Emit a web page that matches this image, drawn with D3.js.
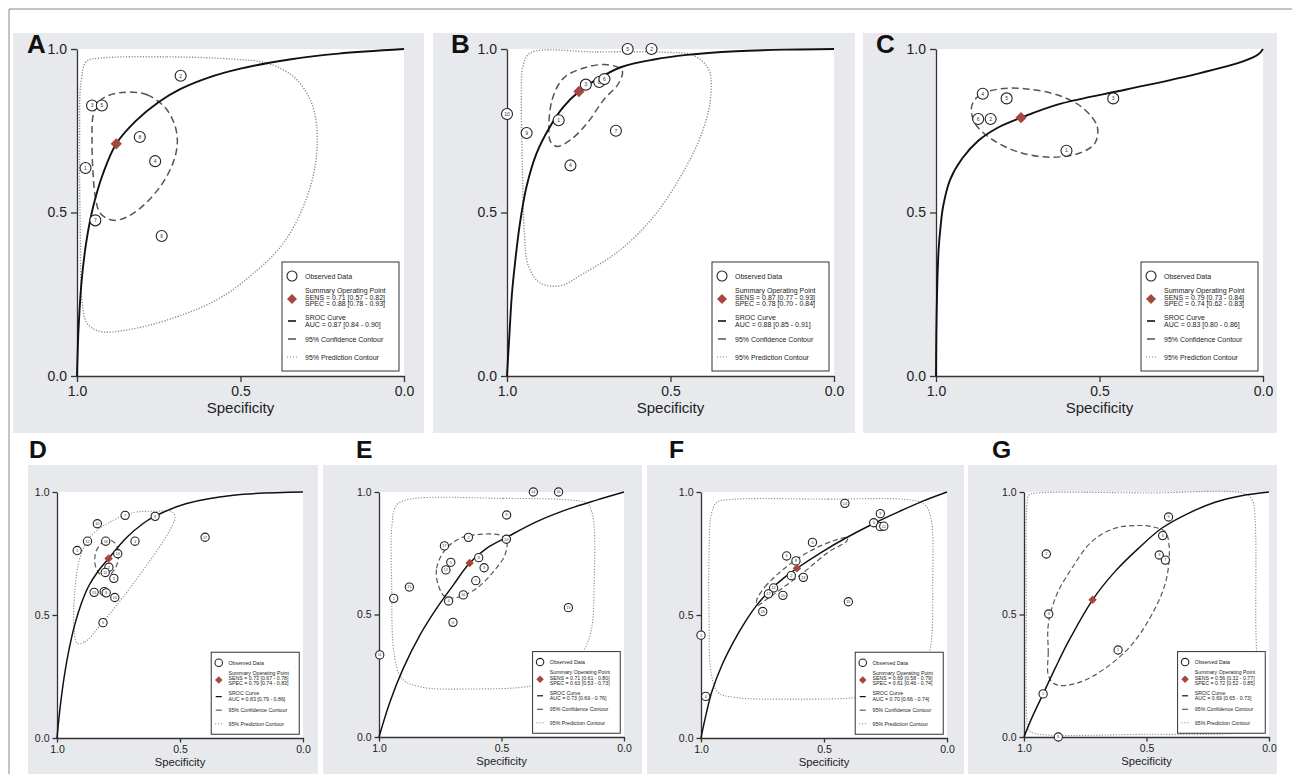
<!DOCTYPE html>
<html>
<head>
<meta charset="utf-8">
<script src="https://cdn.jsdelivr.net/npm/d3@7/dist/d3.min.js"></script>
<style>
  body { margin: 0; background: #fff; font-family: "Liberation Sans", Arial, sans-serif; }
</style>
</head>
<body>
<svg id="fig" width="1292" height="774"></svg>
<script>
// ---- data: observed studies are [specificity, sensitivity, study no.] ----
const studiesA = [[0.683,0.918,2],[0.954,0.827,3],[0.924,0.827,5],[0.808,0.731,8],[0.761,0.657,4],[0.974,0.636,1],[0.944,0.476,7],[0.741,0.428,6]];
const summaryA = [0.88, 0.71];
const statsA = ["SENS = 0.71 [0.57 - 0.82]", "SPEC = 0.88 [0.78 - 0.93]", "AUC = 0.87 [0.84 - 0.90]"];
const srocA = [[1,0],[0.995,0.15],[0.985,0.3],[0.97,0.42],[0.95,0.52],[0.92,0.62],[0.88,0.71],[0.82,0.78],[0.75,0.838],[0.683,0.878],[0.6,0.912],[0.5,0.94],[0.35,0.968],[0.2,0.986],[0,1]];
const confA = [[0.863,0.867],[0.786,0.860],[0.725,0.814],[0.695,0.743],[0.700,0.671],[0.745,0.580],[0.827,0.498],[0.888,0.476],[0.929,0.498],[0.944,0.549],[0.951,0.620],[0.954,0.722],[0.949,0.804],[0.924,0.847]];
const predA = [[0.929,0.972],[0.725,0.976],[0.521,0.969],[0.420,0.957],[0.338,0.916],[0.287,0.845],[0.267,0.763],[0.272,0.641],[0.308,0.518],[0.369,0.406],[0.460,0.314],[0.572,0.233],[0.725,0.171],[0.847,0.141],[0.929,0.136],[0.969,0.161],[0.985,0.233],[0.990,0.437],[0.992,0.743],[0.988,0.896],[0.971,0.962]];

const studiesB = [[0.631,1.0,5],[0.558,1.0,2],[1.0,0.801,10],[0.940,0.743,9],[0.842,0.782,1],[0.759,0.891,3],[0.718,0.899,8],[0.702,0.908,6],[0.667,0.750,7],[0.806,0.644,4]];
const summaryB = [0.78, 0.87];
const statsB = ["SENS = 0.87 [0.77 - 0.93]", "SPEC = 0.78 [0.70 - 0.84]", "AUC = 0.88 [0.85 - 0.91]"];
const srocB = [[1,0],[0.993,0.12],[0.985,0.25],[0.975,0.35],[0.96,0.47],[0.94,0.58],[0.91,0.68],[0.87,0.76],[0.83,0.82],[0.78,0.87],[0.72,0.91],[0.65,0.945],[0.55,0.968],[0.45,0.982],[0.3,0.993],[0.15,0.998],[0,1]];
const confB = [[0.872,0.748],[0.862,0.845],[0.827,0.911],[0.765,0.942],[0.694,0.952],[0.648,0.935],[0.658,0.896],[0.704,0.845],[0.755,0.773],[0.806,0.722],[0.847,0.702],[0.867,0.717]];
const predB = [[0.929,0.988],[0.724,0.991],[0.520,0.990],[0.429,0.980],[0.383,0.937],[0.378,0.845],[0.408,0.733],[0.469,0.610],[0.551,0.488],[0.653,0.386],[0.765,0.314],[0.837,0.276],[0.898,0.284],[0.934,0.335],[0.947,0.437],[0.953,0.641],[0.956,0.845],[0.951,0.947]];

const studiesC = [[0.857,0.863,4],[0.784,0.849,5],[0.458,0.849,3],[0.871,0.786,6],[0.833,0.786,2],[0.601,0.689,1]];
const summaryC = [0.74, 0.79];
const statsC = ["SENS = 0.79 [0.73 - 0.84]", "SPEC = 0.74 [0.62 - 0.83]", "AUC = 0.83 [0.80 - 0.86]"];
const srocC = [[1,0],[0.999,0.13],[0.996,0.284],[0.992,0.386],[0.986,0.457],[0.978,0.52],[0.957,0.6],[0.92,0.665],[0.87,0.72],[0.81,0.76],[0.74,0.79],[0.621,0.832],[0.418,0.876],[0.214,0.921],[0.061,0.962],[0.015,0.983],[0,1]];
const confC = [[0.891,0.824],[0.866,0.860],[0.804,0.878],[0.723,0.878],[0.621,0.857],[0.550,0.819],[0.507,0.763],[0.514,0.712],[0.560,0.682],[0.652,0.669],[0.754,0.687],[0.835,0.728],[0.881,0.773]];
const predC = [];

const studiesD = [[0.918,0.762,1],[0.876,0.800,12],[0.836,0.871,10],[0.723,0.905,7],[0.601,0.901,9],[0.398,0.816,17],[0.802,0.800,16],[0.683,0.800,4],[0.753,0.749,14],[0.789,0.694,2],[0.804,0.673,11],[0.769,0.649,3],[0.849,0.592,15],[0.808,0.595,6],[0.800,0.590,8],[0.765,0.571,13],[0.813,0.469,5]];
const summaryD = [0.79, 0.73];
const statsD = ["SENS = 0.73 [0.67 - 0.78]", "SPEC = 0.79 [0.74 - 0.83]", "AUC = 0.83 [0.79 - 0.86]"];
const srocD = [[1,0],[0.99,0.1],[0.975,0.22],[0.955,0.34],[0.928,0.46],[0.9,0.55],[0.87,0.62],[0.835,0.675],[0.79,0.73],[0.717,0.815],[0.65,0.872],[0.609,0.898],[0.473,0.953],[0.283,0.987],[0,1]];
const confD = [[0.840,0.762],[0.813,0.796],[0.779,0.803],[0.755,0.776],[0.751,0.728],[0.765,0.687],[0.792,0.660],[0.826,0.667],[0.844,0.701],[0.846,0.735]];
const predD = [[0.918,0.385],[0.887,0.390],[0.826,0.456],[0.717,0.592],[0.622,0.721],[0.554,0.823],[0.520,0.898],[0.534,0.921],[0.595,0.922],[0.690,0.916],[0.785,0.878],[0.867,0.816],[0.908,0.728],[0.928,0.592],[0.931,0.456]];

const studiesE = [[0.370,1.0,14],[0.267,1.0,16],[0.479,0.906,9],[0.480,0.807,20],[0.635,0.815,2],[0.733,0.780,17],[0.707,0.713,5],[0.727,0.682,12],[0.593,0.732,8],[0.571,0.691,3],[0.605,0.638,7],[0.656,0.580,10],[0.716,0.555,4],[0.698,0.468,6],[0.876,0.612,15],[0.940,0.566,1],[0.997,0.335,11],[0.227,0.528,19]];
const summaryE = [0.63, 0.71];
const statsE = ["SENS = 0.71 [0.61 - 0.80]", "SPEC = 0.63 [0.53 - 0.73]", "AUC = 0.73 [0.69 - 0.76]"];
const srocE = [[1,0],[0.955,0.144],[0.901,0.28],[0.833,0.416],[0.765,0.525],[0.697,0.62],[0.63,0.71],[0.561,0.77],[0.479,0.815],[0.356,0.879],[0.22,0.933],[0.112,0.967],[0,1]];
const confE = [[0.758,0.620],[0.765,0.688],[0.731,0.763],[0.669,0.811],[0.588,0.827],[0.506,0.824],[0.479,0.804],[0.486,0.743],[0.533,0.675],[0.601,0.607],[0.683,0.569],[0.731,0.573]];
const predE = [[0.873,0.971],[0.493,0.974],[0.220,0.967],[0.152,0.954],[0.128,0.906],[0.122,0.620],[0.132,0.444],[0.159,0.362],[0.220,0.267],[0.356,0.212],[0.629,0.196],[0.833,0.205],[0.907,0.239],[0.939,0.348],[0.948,0.620],[0.947,0.865],[0.928,0.947]];

const studiesF = [[0.415,0.954,14],[0.271,0.912,9],[0.298,0.875,5],[0.271,0.859,7],[0.257,0.861,11],[0.547,0.795,6],[0.652,0.740,3],[0.614,0.720,8],[0.633,0.660,2],[0.584,0.653,13],[0.705,0.610,12],[0.726,0.586,17],[0.667,0.580,10],[0.749,0.514,16],[0.401,0.554,15],[1.0,0.418,1],[0.981,0.169,4]];
const summaryF = [0.61, 0.69];
const statsF = ["SENS = 0.69 [0.58 - 0.79]", "SPEC = 0.61 [0.46 - 0.74]", "AUC = 0.70 [0.66 - 0.74]"];
const srocF = [[1,0],[0.984,0.076],[0.957,0.185],[0.916,0.294],[0.869,0.389],[0.821,0.471],[0.774,0.539],[0.713,0.607],[0.659,0.654],[0.61,0.69],[0.509,0.756],[0.415,0.811],[0.306,0.868],[0.211,0.913],[0.103,0.961],[0,1]];
const confF = [[0.774,0.559],[0.740,0.614],[0.686,0.668],[0.618,0.722],[0.537,0.770],[0.455,0.804],[0.404,0.815],[0.408,0.800],[0.482,0.756],[0.577,0.678],[0.672,0.607],[0.740,0.559],[0.770,0.539]];
const predF = [[0.889,0.969],[0.482,0.971],[0.144,0.967],[0.089,0.947],[0.065,0.893],[0.058,0.620],[0.066,0.376],[0.095,0.267],[0.175,0.192],[0.347,0.165],[0.618,0.158],[0.862,0.165],[0.930,0.185],[0.959,0.267],[0.967,0.484],[0.967,0.756],[0.959,0.906],[0.936,0.958]];

const studiesG = [[0.410,0.898,9],[0.434,0.822,6],[0.448,0.743,3],[0.423,0.722,7],[0.909,0.747,2],[0.899,0.502,4],[0.616,0.355,5],[0.922,0.176,1],[0.860,0.0,8]];
const summaryG = [0.72, 0.56];
const statsG = ["SENS = 0.56 [0.32 - 0.77]", "SPEC = 0.72 [0.52 - 0.85]", "AUC = 0.69 [0.65 - 0.73]"];
const srocG = [[1,0],[0.969,0.076],[0.922,0.176],[0.873,0.28],[0.819,0.389],[0.72,0.56],[0.629,0.675],[0.533,0.77],[0.438,0.852],[0.329,0.913],[0.22,0.958],[0.112,0.985],[0,1]];
const confG = [[0.901,0.457],[0.901,0.348],[0.901,0.253],[0.880,0.219],[0.846,0.210],[0.765,0.226],[0.669,0.280],[0.561,0.376],[0.465,0.525],[0.418,0.648],[0.408,0.784],[0.424,0.838],[0.479,0.859],[0.547,0.863],[0.629,0.852],[0.724,0.797],[0.805,0.688],[0.867,0.580]];
const predG = [[0.955,0.995],[0.493,0.996],[0.098,0.993],[0.068,0.967],[0.057,0.893],[0.054,0.484],[0.054,0.090],[0.078,0.024],[0.152,0.014],[0.493,0.011],[0.955,0.014],[0.982,0.029],[0.989,0.090],[0.990,0.484],[0.988,0.947],[0.980,0.988]];

const xTicks = [1.0, 0.5, 0.0];
const yTicks = [0.0, 0.5, 1.0];
const legendLabels = ["Observed Data", "Summary Operating Point", "SROC Curve", "95% Confidence Contour", "95% Prediction Contour"];

// ---- layout ----
const panels = [
  {id:"A", studies:studiesA, summary:summaryA, stats:statsA, sroc:srocA, conf:confA, pred:predA, bg:[13,33,411,400], x0:77,  y0:49,  size:327, letter:[27,53]},
  {id:"B", studies:studiesB, summary:summaryB, stats:statsB, sroc:srocB, conf:confB, pred:predB, bg:[433,33,422,400], x0:507, y0:49,  size:327, letter:[451,53]},
  {id:"C", studies:studiesC, summary:summaryC, stats:statsC, sroc:srocC, conf:confC, pred:predC, bg:[863,33,414,400], x0:936, y0:49,  size:327, letter:[876,53]},
  {id:"D", studies:studiesD, summary:summaryD, stats:statsD, sroc:srocD, conf:confD, pred:predD, bg:[28,465,290,309], x0:57,  y0:492, size:246, letter:[29,458]},
  {id:"E", studies:studiesE, summary:summaryE, stats:statsE, sroc:srocE, conf:confE, pred:predE, bg:[323,465,319,309], x0:379, y0:492, size:245, letter:[356,458]},
  {id:"F", studies:studiesF, summary:summaryF, stats:statsF, sroc:srocF, conf:confF, pred:predF, bg:[647,465,317,309], x0:701, y0:492, size:246, letter:[669,458]},
  {id:"G", studies:studiesG, summary:summaryG, stats:statsG, sroc:srocG, conf:confG, pred:predG, bg:[968,465,309,309], x0:1024,y0:492, size:245, letter:[992,458]}
];

const svg = d3.select("#fig");
const panelGrey = "#e7e9ec";
const diamondColor = "#a5473d";

// outer frame lines
svg.append("line").attr("x1", 9).attr("y1", 9).attr("x2", 1292).attr("y2", 9).attr("stroke", "#8a8a8a");
svg.append("line").attr("x1", 9).attr("y1", 9).attr("x2", 9).attr("y2", 774).attr("stroke", "#8a8a8a");

panels.forEach(p => {
  const k = p.size / 327;
  svg.append("rect")
    .attr("x", p.bg[0]).attr("y", p.bg[1]).attr("width", p.bg[2]).attr("height", p.bg[3])
    .attr("fill", panelGrey);
  svg.append("text")
    .attr("x", p.letter[0]).attr("y", p.letter[1])
    .attr("font-size", 26 * (p.size < 300 ? 0.95 : 1)).attr("font-weight", "bold").attr("fill", "#111")
    .text(p.id);

  const g = svg.append("g").attr("transform", `translate(${p.x0},${p.y0})`);
  const x = d3.scaleLinear().domain([1, 0]).range([0, p.size]);
  const y = d3.scaleLinear().domain([0, 1]).range([p.size, 0]);

  g.append("rect").attr("width", p.size).attr("height", p.size).attr("fill", "#fff");

  // axes
  const xAxis = g.append("g").attr("transform", `translate(0,${p.size})`)
    .call(d3.axisBottom(x).tickValues(xTicks).tickFormat(d3.format(".1f")).tickSize(6 * k).tickSizeOuter(0).tickPadding(4 * k));
  const yAxis = g.append("g")
    .call(d3.axisLeft(y).tickValues(yTicks).tickFormat(d3.format(".1f")).tickSize(6 * k).tickSizeOuter(0).tickPadding(4 * k));
  [xAxis, yAxis].forEach(a => {
    a.select(".domain").attr("stroke", "#333").attr("stroke-width", 1.3);
    a.selectAll(".tick line").attr("stroke", "#333").attr("stroke-width", 1.3);
    a.selectAll("text").attr("font-size", 14 * k).attr("fill", "#222")
      .attr("font-family", "Liberation Sans, Arial, sans-serif");
  });
  g.append("text")
    .attr("x", p.size / 2).attr("y", p.size + 37 * k)
    .attr("text-anchor", "middle").attr("font-size", 15 * k).attr("fill", "#222")
    .text("Specificity");

  const line = d3.line().x(d => x(d[0])).y(d => y(d[1])).curve(d3.curveCatmullRom.alpha(0.5));
  const closed = d3.line().x(d => x(d[0])).y(d => y(d[1])).curve(d3.curveCatmullRomClosed.alpha(0.5));

  // prediction contour (dotted)
  if (p.pred.length) {
    g.append("path").attr("d", closed(p.pred))
      .attr("fill", "none").attr("stroke", "#8c8c8c").attr("stroke-width", 1.2 * k + 0.2)
      .attr("stroke-dasharray", "1.2,1.6");
  }
  // confidence contour (dashed)
  g.append("path").attr("d", closed(p.conf))
    .attr("fill", "none").attr("stroke", "#555").attr("stroke-width", 1.3 * k + 0.2)
    .attr("stroke-dasharray", `${7 * k},${4 * k}`);
  // SROC curve
  g.append("path").attr("d", line(p.sroc))
    .attr("fill", "none").attr("stroke", "#111").attr("stroke-width", 1.7 * k + 0.2);

  // observed studies
  const pts = g.selectAll(".study").data(p.studies).enter().append("g")
    .attr("transform", d => `translate(${x(d[0])},${y(d[1])})`);
  pts.append("circle").attr("r", 5.5 * k)
    .attr("fill", "#fff").attr("stroke", "#222").attr("stroke-width", 1.1);
  pts.append("text").attr("text-anchor", "middle").attr("dy", "0.35em")
    .attr("font-size", 5 * k).attr("fill", "#333").text(d => d[2]);

  // summary operating point
  g.append("path")
    .attr("d", d3.symbol(d3.symbolSquare, 64 * k * k)())
    .attr("transform", `translate(${x(p.summary[0])},${y(p.summary[1])}) rotate(45)`)
    .attr("fill", diamondColor);

  // legend
  const lw = 117 * k, lh = 109 * k;
  const lg = g.append("g").attr("transform", `translate(${p.size - 5 * k - lw},${p.size - 5 * k - lh})`);
  lg.append("rect").attr("width", lw).attr("height", lh)
    .attr("fill", "#fff").attr("stroke", "#333").attr("stroke-width", 1);
  const fs = 7 * k;
  const tx = 23 * k;
  const txt = (yy, s) => lg.append("text").attr("x", tx).attr("y", yy * k).attr("font-size", fs).attr("fill", "#222").text(s);
  lg.append("circle").attr("cx", 10 * k).attr("cy", 14 * k).attr("r", 5 * k)
    .attr("fill", "#fff").attr("stroke", "#222").attr("stroke-width", 1.1);
  txt(16.5, legendLabels[0]);
  lg.append("path").attr("d", d3.symbol(d3.symbolSquare, 50 * k * k)())
    .attr("transform", `translate(${10 * k},${37 * k}) rotate(45)`).attr("fill", diamondColor);
  txt(30.5, legendLabels[1]);
  txt(37.5, p.stats[0]);
  txt(44, p.stats[1]);
  lg.append("line").attr("x1", 6 * k).attr("x2", 14 * k).attr("y1", 59 * k).attr("y2", 59 * k)
    .attr("stroke", "#111").attr("stroke-width", 1.6 * k);
  txt(57.5, legendLabels[2]);
  txt(64.5, p.stats[2]);
  lg.append("line").attr("x1", 6 * k).attr("x2", 14 * k).attr("y1", 77 * k).attr("y2", 77 * k)
    .attr("stroke", "#444").attr("stroke-width", 1.4 * k);
  txt(79.5, legendLabels[3]);
  lg.append("line").attr("x1", 5 * k).attr("x2", 15 * k).attr("y1", 95 * k).attr("y2", 95 * k)
    .attr("stroke", "#888").attr("stroke-width", 1.2 * k).attr("stroke-dasharray", "1.2,1.8");
  txt(97.5, legendLabels[4]);
});
</script>
</body>
</html>
